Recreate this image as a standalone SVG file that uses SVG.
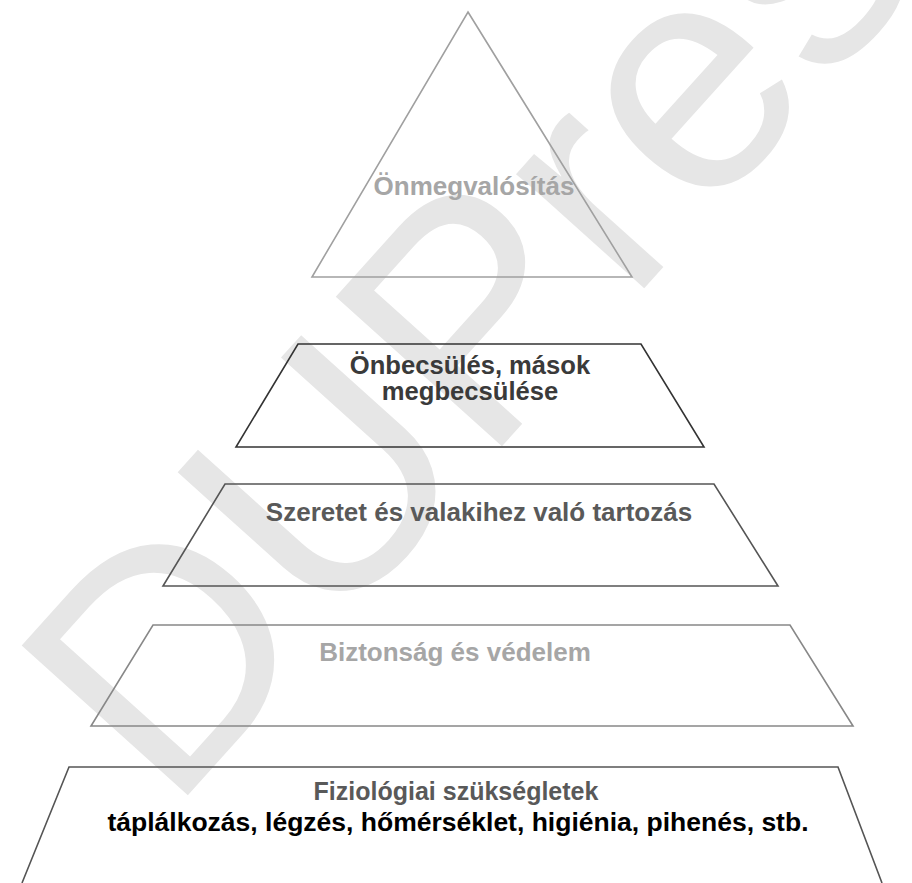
<svg xmlns="http://www.w3.org/2000/svg" width="912" height="883" viewBox="0 0 912 883">
<style>
.t{font-family:"Liberation Sans",Arial,sans-serif;font-weight:bold;text-anchor:middle}
.s{fill:none;stroke-width:1.6;stroke-linejoin:miter}
</style>
<rect width="912" height="883" fill="#fff"/>
<g id="watermark">
<text x="0" y="0" transform="translate(170,815) rotate(-48)" font-family="Liberation Sans,Arial,sans-serif" font-size="325" fill="#e6e6e6">DUPress</text>
</g>
<g id="level5">
<polygon class="s" points="468,12 632,277 312,277" stroke="#a0a0a0"/>
<text class="t" x="474" y="195" font-size="26" fill="#a6a6a6">Önmegvalósítás</text>
</g>
<g id="level4">
<polygon class="s" points="298,344 641,344 704,447 236,447" stroke="#333"/>
<text class="t" x="470" y="374" font-size="25.6" fill="#3a3a3a">Önbecsülés, mások</text>
<text class="t" x="470" y="400" font-size="25.6" fill="#3a3a3a">megbecsülése</text>
</g>
<g id="level3">
<polygon class="s" points="225,484 714,484 778,586 163,586" stroke="#555"/>
<text class="t" x="479" y="521" font-size="26" fill="#595959">Szeretet és valakihez való tartozás</text>
</g>
<g id="level2">
<polygon class="s" points="153,625 790,625 853,726 91,726" stroke="#888"/>
<text class="t" x="455" y="661" font-size="26" fill="#a6a6a6">Biztonság és védelem</text>
</g>
<g id="level1">
<polyline class="s" points="22,883 69,767 838,767 882,883" stroke="#555"/>
<text class="t" x="456" y="800" font-size="25" fill="#595959">Fiziológiai szükségletek</text>
<text class="t" x="458" y="831" font-size="26.5" fill="#000">táplálkozás, légzés, hőmérséklet, higiénia, pihenés, stb.</text>
</g>
<g id="connectors"/>
</svg>
